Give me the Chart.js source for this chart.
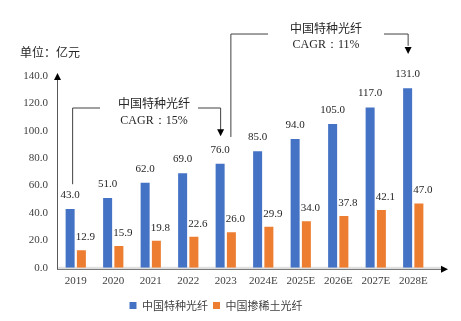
<!DOCTYPE html>
<html>
<head>
<meta charset="utf-8">
<script src="https://cdn.jsdelivr.net/npm/chart.js@4/dist/chart.umd.min.js"></script>
<style>
  html, body { margin: 0; padding: 0; background: #fff; }
  #wrap { width: 461px; height: 321px; position: relative; }
</style>
</head>
<body>
<div id="wrap"><canvas id="c" width="461" height="321"></canvas></div>
<script>
// ======================
// Datos del gráfico
// ======================
const years = ["2019", "2020", "2021", "2022", "2023", "2024E", "2025E", "2026E", "2027E", "2028E"];
const specialFiber = [43.0, 51.0, 62.0, 69.0, 76.0, 85.0, 94.0, 105.0, 117.0, 131.0];
const rareEarthFiber = [12.9, 15.9, 19.8, 22.6, 26.0, 29.9, 34.0, 37.8, 42.1, 47.0];
const seriesNames = ["中国特种光纤", "中国掺稀土光纤"];
const unitLabel = "单位：亿元";
const cagrNotes = [
    { title: "中国特种光纤", text: "CAGR：15%" },
    { title: "中国特种光纤", text: "CAGR：11%" }
];

const SERIF = "'Liberation Serif', 'Times New Roman', serif";
const CJK = "'Noto Sans CJK SC', sans-serif";

// ========== arrow helper ==========
function arrowHead(ctx, x, y, dir) {
    ctx.beginPath();
    if (dir === "down") {
        ctx.moveTo(x - 3.5, y - 7); ctx.lineTo(x + 3.5, y - 7); ctx.lineTo(x, y);
    } else if (dir === "up") {
        ctx.moveTo(x - 3.5, y + 7); ctx.lineTo(x + 3.5, y + 7); ctx.lineTo(x, y);
    } else {
        ctx.moveTo(x - 7, y - 3.5); ctx.lineTo(x - 7, y + 3.5); ctx.lineTo(x, y);
    }
    ctx.closePath();
    ctx.fill();
}

// =============================
// Plugin: ejes, etiquetas, anotaciones
// =============================
const decorations = {
    id: "decorations",
    beforeDatasetsDraw(chart) {
        // línea base gris clara detrás de las barras
        const ctx = chart.ctx;
        const area = chart.chartArea;
        ctx.save();
        ctx.strokeStyle = "#d9d9d9";
        ctx.lineWidth = 1;
        ctx.beginPath();
        ctx.moveTo(area.left, area.bottom - 0.5);
        ctx.lineTo(area.right + 10, area.bottom - 0.5);
        ctx.stroke();
        ctx.restore();
    },
    afterDatasetsDraw(chart) {
        const ctx = chart.ctx;
        const area = chart.chartArea;
        const y = chart.scales.y;
        const blue = chart.getDatasetMeta(0).data;
        const orange = chart.getDatasetMeta(1).data;
        ctx.save();

        // ejes con flechas
        ctx.lineWidth = 1;
        ctx.strokeStyle = "#595959";
        ctx.fillStyle = "#000";
        ctx.beginPath();
        ctx.moveTo(area.left + 0.5, area.bottom + 1.5);
        ctx.lineTo(area.left + 0.5, area.top - 1);
        ctx.stroke();
        arrowHead(ctx, area.left + 0.5, area.top - 3, "up");
        ctx.beginPath();
        ctx.moveTo(area.left, area.bottom + 1.5);
        ctx.lineTo(area.right + 12, area.bottom + 1.5);
        ctx.stroke();
        arrowHead(ctx, area.right + 16, area.bottom + 1.5, "right");

        // etiquetas de valores
        ctx.fillStyle = "#262626";
        ctx.font = "11px " + SERIF;
        ctx.textAlign = "center";
        ctx.textBaseline = "middle";
        blue.forEach((bar, i) => {
            ctx.fillText(specialFiber[i].toFixed(1), bar.x, bar.y - 14);
        });
        orange.forEach((bar, i) => {
            ctx.fillText(rareEarthFiber[i].toFixed(1), bar.x + 4, bar.y - 13);
        });

        // unidad
        ctx.textAlign = "left";
        ctx.font = "12px " + CJK;
        ctx.fillStyle = "#262626";
        ctx.fillText(unitLabel, 20, 52);

        // anotación CAGR 2019-2023
        ctx.strokeStyle = "#404040";
        ctx.fillStyle = "#000";
        const x1 = blue[0].x + 2, x2 = blue[4].x;
        const yl = y.getPixelForValue(117);
        ctx.beginPath();
        ctx.moveTo(x1 + 0.5, y.getPixelForValue(61));
        ctx.lineTo(x1 + 0.5, yl + 0.5);
        ctx.lineTo(100, yl + 0.5);
        ctx.moveTo(198, yl + 0.5);
        ctx.lineTo(x2 + 0.5, yl + 0.5);
        ctx.lineTo(x2 + 0.5, y.getPixelForValue(100));
        ctx.stroke();
        arrowHead(ctx, x2 + 0.5, y.getPixelForValue(96), "down");
        ctx.textAlign = "center";
        ctx.fillStyle = "#262626";
        ctx.font = "12px " + CJK;
        ctx.fillText(cagrNotes[0].title, 154, yl - 4);
        ctx.font = "12px " + SERIF;
        ctx.fillText(cagrNotes[0].text, 154, yl + 13);

        // anotación CAGR 2023-2028E
        const x3 = orange[4].x - 1, x4 = blue[9].x;
        const yr = y.getPixelForValue(171);
        ctx.fillStyle = "#000";
        ctx.beginPath();
        ctx.moveTo(x3 + 0.5, y.getPixelForValue(95.5));
        ctx.lineTo(x3 + 0.5, yr + 0.5);
        ctx.lineTo(268, yr + 0.5);
        ctx.moveTo(384, yr + 0.5);
        ctx.lineTo(x4 + 0.5, yr + 0.5);
        ctx.lineTo(x4 + 0.5, y.getPixelForValue(162));
        ctx.stroke();
        arrowHead(ctx, x4 + 0.5, y.getPixelForValue(156), "down");
        ctx.fillStyle = "#262626";
        ctx.font = "12px " + CJK;
        ctx.fillText(cagrNotes[1].title, 326, yr - 5);
        ctx.font = "12px " + SERIF;
        ctx.fillText(cagrNotes[1].text, 326, yr + 11);

        ctx.restore();
    }
};

new Chart(document.getElementById("c"), {
    type: "bar",
    data: {
        labels: years,
        datasets: [
            { label: seriesNames[0], data: specialFiber, backgroundColor: "#4472C4" },
            { label: seriesNames[1], data: rareEarthFiber, backgroundColor: "#ED7D31" }
        ]
    },
    options: {
        responsive: false,
        animation: false,
        devicePixelRatio: 1,
        layout: { padding: { top: 76, right: 29, bottom: 0, left: 0 } },
        datasets: { bar: { categoryPercentage: 0.6, barPercentage: 0.8 } },
        scales: {
            x: {
                grid: { display: false, drawTicks: false },
                border: { display: false },
                ticks: { color: "#404040", font: { family: SERIF, size: 11 }, padding: 7 }
            },
            y: {
                min: 0,
                max: 140,
                grid: { display: false, drawTicks: false },
                border: { display: false },
                afterFit: s => { s.width = 57; },
                ticks: {
                    stepSize: 20,
                    color: "#404040",
                    padding: 9,
                    font: { family: SERIF, size: 11 },
                    callback: v => v.toFixed(1)
                }
            }
        },
        plugins: {
            legend: {
                position: "bottom",
                labels: {
                    boxWidth: 7,
                    boxHeight: 7,
                    padding: 5,
                    color: "#404040",
                    font: { family: CJK, size: 11 }
                }
            },
            tooltip: { enabled: false }
        }
    },
    plugins: [decorations]
});
</script>
</body>
</html>
